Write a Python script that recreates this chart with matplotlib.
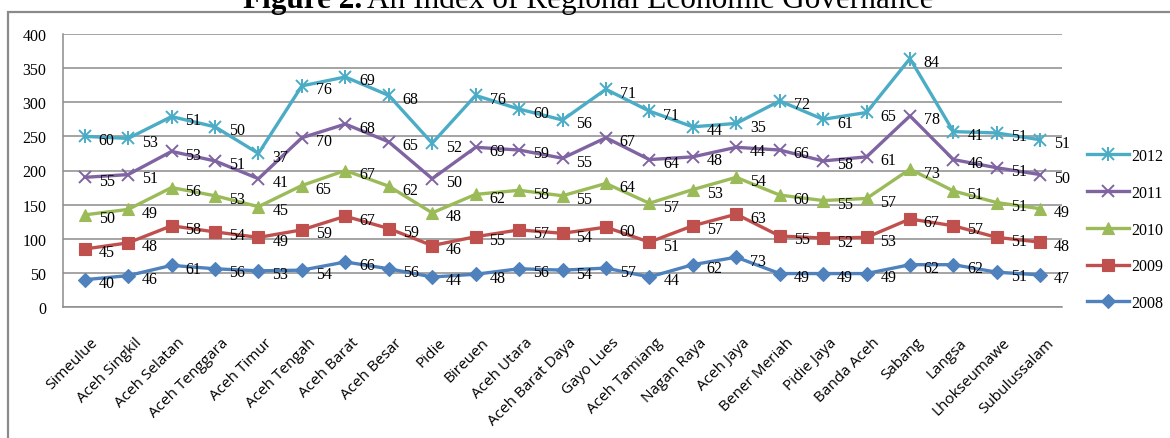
import numpy as np
import matplotlib
matplotlib.use("Agg")
import matplotlib.pyplot as plt
from matplotlib.patches import Rectangle
from matplotlib.legend_handler import HandlerTuple
from matplotlib.transforms import ScaledTranslation

categories = ["Simeulue", "Aceh Singkil", "Aceh Selatan", "Aceh Tenggara", "Aceh Timur",
              "Aceh Tengah", "Aceh Barat", "Aceh Besar", "Pidie", "Bireuen", "Aceh Utara",
              "Aceh Barat Daya", "Gayo Lues", "Aceh Tamiang", "Nagan Raya", "Aceh Jaya",
              "Bener Meriah", "Pidie Jaya", "Banda Aceh", "Sabang", "Langsa",
              "Lhokseumawe", "Subulussalam"]

v2008 = [40, 46, 61, 56, 53, 54, 66, 56, 44, 48, 56, 54, 57, 44, 62, 73, 49, 49, 49, 62, 62, 51, 47]
v2009 = [45, 48, 58, 54, 49, 59, 67, 59, 46, 55, 57, 54, 60, 51, 57, 63, 55, 52, 53, 67, 57, 51, 48]
v2010 = [50, 49, 56, 53, 45, 65, 67, 62, 48, 62, 58, 55, 64, 57, 53, 54, 60, 55, 57, 73, 51, 51, 49]
v2011 = [55, 51, 53, 51, 41, 70, 68, 65, 50, 69, 59, 55, 67, 64, 48, 44, 66, 58, 61, 78, 46, 51, 50]
v2012 = [60, 53, 51, 50, 37, 76, 69, 68, 52, 76, 60, 56, 71, 71, 44, 35, 72, 61, 65, 84, 41, 51, 51]

years = ["2008", "2009", "2010", "2011", "2012"]
y_ticks = [0, 50, 100, 150, 200, 250, 300, 350, 400]

series = [v2008, v2009, v2010, v2011, v2012]
colors = ["#4F81BD", "#C0504D", "#9BBB59", "#8064A2", "#4BACC6"]
markers = ["D", "s", "^", "x", "x"]
msizes = [7, 9, 9, 9, 9]

W, H = 1170, 439
fig = plt.figure(figsize=(W / 100, H / 100), dpi=100)
fig.patch.set_facecolor("white")

# outer chart border (extends beyond the image on right/bottom)
fig.add_artist(Rectangle((8 / W, -0.2), 1.2, (H - 13) / H + 0.2, transform=fig.transFigure,
                         fill=False, edgecolor="#8a8a8a", lw=1.6, zorder=0))

fig.text(362 / W, 1 - 8 / H, "Figure 2.", ha="right", va="baseline", fontsize=22.5,
         family="Liberation Serif", fontweight="bold")
fig.text(367 / W, 1 - 8 / H, "An Index of Regional Economic Governance", ha="left",
         va="baseline", fontsize=22.5, family="Liberation Serif")

ax = fig.add_axes([63 / W, 1 - 308 / H, (1062 - 63) / W, (308 - 35) / H])
ax.set_facecolor("white")
x = np.arange(len(categories))
cum = np.cumsum(np.array(series, dtype=float), axis=0)

handles = []
for i in range(len(series)):
    (ln,) = ax.plot(x, cum[i], color=colors[i], lw=2.4, marker=markers[i],
                    markersize=msizes[i], markeredgewidth=1.4 if i >= 3 else 0.8,
                    markeredgecolor=colors[i], zorder=3 + i)
    h = ln
    if i == 4:
        (ln2,) = ax.plot(x, cum[i], ls="none", marker="|", markersize=10,
                         markeredgewidth=1.4, color=colors[i], zorder=3 + i)
        h = (ln, ln2)
    handles.append(h)
    for xi, yi, val in zip(x, cum[i], series[i]):
        ax.annotate(str(val), (xi, yi), xytext=(10, -2.5), textcoords="offset points",
                    ha="left", va="center", fontsize=11.5, family="Liberation Serif",
                    color="black", zorder=10)

ax.set_xlim(-0.5, len(categories) - 0.5)
ax.set_ylim(0, 400)
ax.set_yticks(y_ticks)
ax.set_yticklabels([str(t) for t in y_ticks], family="Liberation Serif", fontsize=11.5)
ax.yaxis.grid(True, color="#8c8c8c", lw=1.1)
ax.set_axisbelow(True)
ax.tick_params(axis="y", length=0, pad=12)
ax.tick_params(axis="x", length=0, pad=20)
ax.set_xticks(x)
ax.set_xticklabels(categories, rotation=45, ha="right", va="top", rotation_mode="anchor",
                   family="Open Sans", fontsize=11)
off = ScaledTranslation(6 / 100, 0, fig.dpi_scale_trans)
for lab in ax.get_xticklabels():
    lab.set_transform(lab.get_transform() + off)
for s in ["top", "right"]:
    ax.spines[s].set_visible(False)
for s in ["left", "bottom"]:
    ax.spines[s].set_color("#8c8c8c")
    ax.spines[s].set_linewidth(1.1)

order = [4, 3, 2, 1, 0]
leg = fig.legend([handles[i] for i in order], [years[i] for i in order],
                 loc="upper left", bbox_to_anchor=(1087 / W, 1 - 149 / H),
                 frameon=False, prop={"family": "Liberation Serif", "size": 11.5},
                 handlelength=2.6, handletextpad=0.15, labelspacing=1.3,
                 borderaxespad=0, borderpad=0,
                 handler_map={tuple: HandlerTuple(ndivide=1)})

fig.savefig("out.png", dpi=100, facecolor="white")
